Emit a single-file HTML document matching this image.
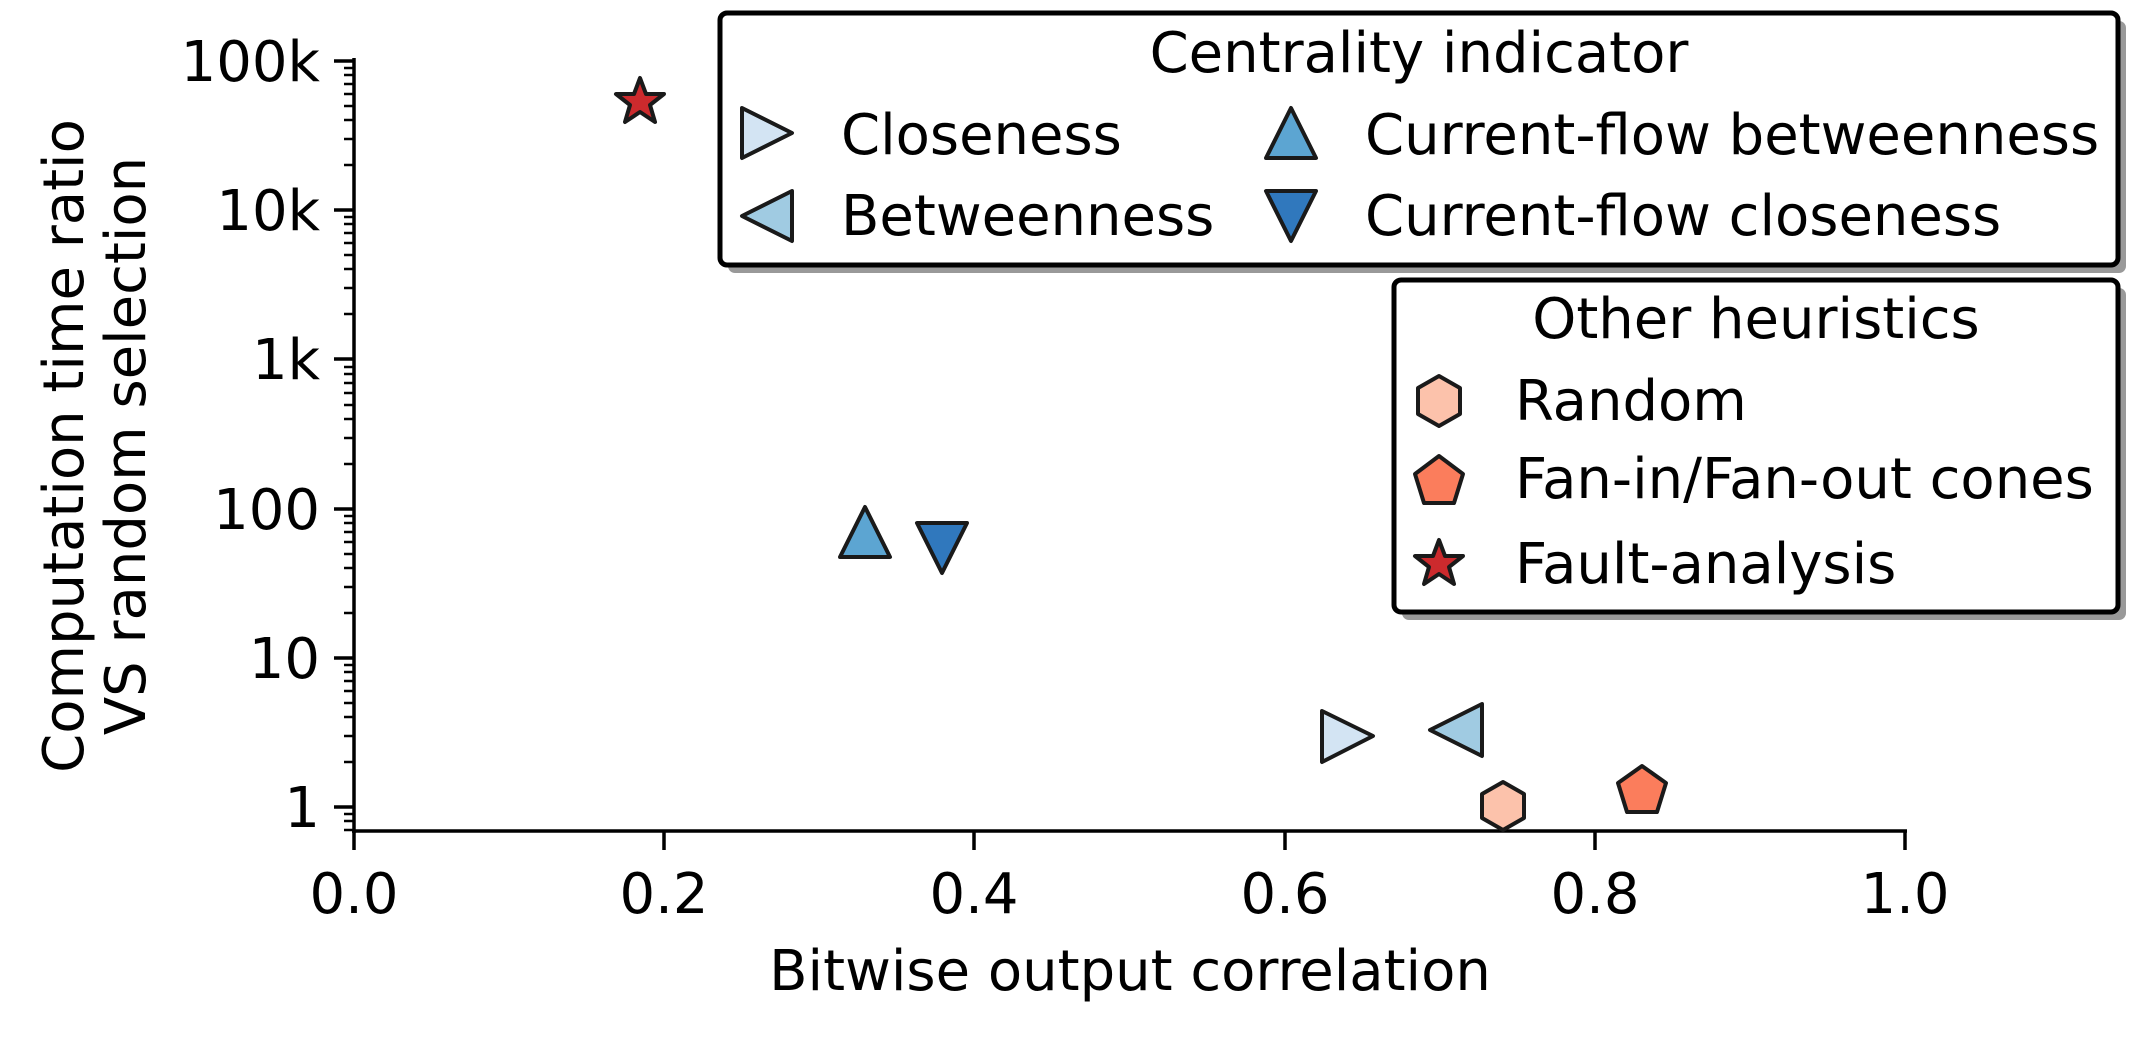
<!DOCTYPE html>
<html><head><meta charset="utf-8"><style>
html,body{margin:0;padding:0;background:#fff;}
svg{display:block;}
text{font-family:"DejaVu Sans","Liberation Sans",sans-serif;fill:#000;}
</style></head><body>
<svg width="2150" height="1040" viewBox="0 0 2150 1040" xmlns="http://www.w3.org/2000/svg">
<rect width="2150" height="1040" fill="#fff"/>
<g stroke="#000" stroke-width="3.5" fill="none">
<line x1="354" y1="58" x2="354" y2="833"/>
<line x1="352" y1="831" x2="1907" y2="831"/>
<line x1="354" y1="831" x2="354" y2="850"/>
<line x1="664" y1="831" x2="664" y2="850"/>
<line x1="974" y1="831" x2="974" y2="850"/>
<line x1="1285" y1="831" x2="1285" y2="850"/>
<line x1="1595" y1="831" x2="1595" y2="850"/>
<line x1="1905" y1="831" x2="1905" y2="850"/>
<line x1="334" y1="61" x2="354" y2="61"/>
<line x1="334" y1="210" x2="354" y2="210"/>
<line x1="334" y1="359" x2="354" y2="359"/>
<line x1="334" y1="509" x2="354" y2="509"/>
<line x1="334" y1="658" x2="354" y2="658"/>
<line x1="334" y1="807" x2="354" y2="807"/>
</g>
<g stroke="#000" stroke-width="2.5">
<path d="
M344 165H354M344 139H354M344 120H354M344 106H354M344 94H354M344 84H354M344 75H354M344 68H354
M344 314H354M344 288H354M344 269H354M344 255H354M344 243H354M344 233H354M344 224H354M344 217H354
M344 464H354M344 438H354M344 419H354M344 405H354M344 393H354M344 383H354M344 374H354M344 367H354
M344 613H354M344 587H354M344 568H354M344 554H354M344 542H354M344 532H354M344 523H354M344 516H354
M344 762H354M344 736H354M344 717H354M344 703H354M344 691H354M344 681H354M344 672H354M344 665H354
M344 814H354M344 821H354M344 830H354"/>
</g>
<g font-size="56" text-anchor="end">
<text x="320" y="81">100k</text>
<text x="320" y="230">10k</text>
<text x="320" y="379">1k</text>
<text x="320" y="529">100</text>
<text x="320" y="678">10</text>
<text x="320" y="827">1</text>
</g>
<g font-size="56" text-anchor="middle">
<text x="354" y="913">0.0</text>
<text x="664" y="913">0.2</text>
<text x="974" y="913">0.4</text>
<text x="1285" y="913">0.6</text>
<text x="1595" y="913">0.8</text>
<text x="1905" y="913">1.0</text>
</g>
<text x="1130" y="990" font-size="56" text-anchor="middle">Bitwise output correlation</text>
<g font-size="56" text-anchor="middle">
<text transform="translate(83,446) rotate(-90)">Computation time ratio</text>
<text transform="translate(145,446) rotate(-90)">VS random selection</text>
</g>
<g stroke="#1a1a1a" stroke-width="4" stroke-linejoin="round">
<polygon points="1322,711 1373,736 1322,762" fill="#d3e4f3"/>
<polygon points="1482,704 1430,730 1482,756" fill="#a0cbe2"/>
<polygon points="865,507 890,557 840,557" fill="#5ca5d2"/>
<polygon points="917,523 967,523 942,573" fill="#3078bd"/>
<polygon points="1503,782 1524,794 1524,818 1503,830 1482,818 1482,794" fill="#fcc2ab"/>
<polygon points="1642,766 1666,783 1657,812 1627,812 1618,783" fill="#fb7d5c"/>
<polygon points="640,78 646,94 664,94 650,105 655,122 640,112 625,122 630,105 616,94 634,94" fill="#cc2a2d"/>
</g>
<rect x="728" y="21" width="1398" height="252" rx="7" fill="#999"/>
<rect x="720" y="13" width="1398" height="252" rx="7" fill="#fff" stroke="#000" stroke-width="5"/>
<text x="1419" y="72" font-size="56" text-anchor="middle">Centrality indicator</text>
<g font-size="56">
<text x="841" y="154">Closeness</text>
<text x="841" y="235">Betweenness</text>
<text x="1365" y="154">Current-flow betweenness</text>
<text x="1365" y="235">Current-flow closeness</text>
</g>
<g stroke="#1a1a1a" stroke-width="4" stroke-linejoin="round">
<polygon points="742,108 792,133 742,158" fill="#d3e4f3"/>
<polygon points="792,191 742,216 792,241" fill="#a0cbe2"/>
<polygon points="1291,108 1316,158 1266,158" fill="#5ca5d2"/>
<polygon points="1266,191 1316,191 1291,241" fill="#3078bd"/>
</g>
<rect x="1402" y="288" width="724" height="332" rx="7" fill="#999"/>
<rect x="1394" y="280" width="724" height="332" rx="7" fill="#fff" stroke="#000" stroke-width="5"/>
<text x="1756" y="338" font-size="56" text-anchor="middle">Other heuristics</text>
<g font-size="56">
<text x="1515" y="420">Random</text>
<text x="1515" y="498">Fan-in/Fan-out cones</text>
<text x="1515" y="583">Fault-analysis</text>
</g>
<g stroke="#1a1a1a" stroke-width="4" stroke-linejoin="round">
<polygon points="1439,376 1460,388 1460,414 1439,426 1418,414 1418,388" fill="#fcc2ab"/>
<polygon points="1439,456 1463,474 1454,503 1424,503 1415,474" fill="#fb7d5c"/>
<polygon points="1439,540 1445,556 1463,556 1449,567 1454,584 1439,574 1424,584 1429,567 1415,556 1433,556" fill="#cc2a2d"/>
</g>
</svg>
</body></html>
